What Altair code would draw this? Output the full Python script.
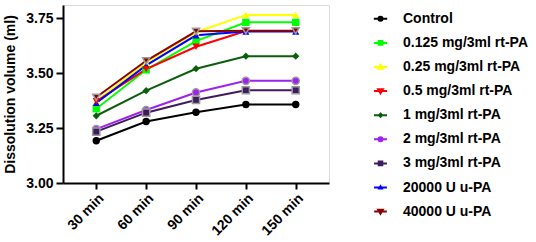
import altair as alt
import pandas as pd

times = ["30 min", "60 min", "90 min", "120 min", "150 min"]
series_names = [
    "Control", "0.125 mg/3ml rt-PA", "0.25 mg/3ml rt-PA", "0.5 mg/3ml rt-PA",
    "1 mg/3ml rt-PA", "2 mg/3ml rt-PA", "3 mg/3ml rt-PA", "20000 U u-PA", "40000 U u-PA",
]
control = [3.192, 3.280, 3.322, 3.357, 3.357]
rt0125 = [3.338, 3.515, 3.646, 3.731, 3.731]
rt025 = [3.372, 3.548, 3.686, 3.765, 3.765]
rt05 = [3.372, 3.518, 3.620, 3.692, 3.692]
rt1 = [3.306, 3.420, 3.520, 3.577, 3.577]
rt2 = [3.245, 3.332, 3.412, 3.465, 3.465]
rt3 = [3.234, 3.320, 3.378, 3.422, 3.422]
u20000 = [3.364, 3.535, 3.672, 3.689, 3.689]
u40000 = [3.390, 3.556, 3.690, 3.693, 3.693]
all_values = [control, rt0125, rt025, rt05, rt1, rt2, rt3, u20000, u40000]

line_colors = ["#000000", "#00FF00", "#FFFF00", "#FF0000", "#0B5E0B",
               "#A020F0", "#3F1A5E", "#0000FF", "#8B0000"]
marker_colors = ["#000000", "#00FF00", "#FFFF00", "#FF0000", "#0B5E0B",
                 "#A020F0", "#3F1A5E", "#0000FF", "#8B0000"]
marker_shapes = ["circle", "square", "triangle-up", "triangle-down", "diamond",
                 "circle", "square", "triangle-up", "triangle-down"]
marker_sizes = [55, 50, 64, 55, 36, 55, 55, 20, 60]
outlined = ["2 mg/3ml rt-PA", "3 mg/3ml rt-PA", "40000 U u-PA"]
y_ticks = [3.0, 3.25, 3.5, 3.75]

# legend keys: a short line with the series marker on it
legend_paths = {
    "circle": "M-1.8,0H1.8M0.55,0A0.55,0.55,0,1,1,-0.55,0A0.55,0.55,0,1,1,0.55,0Z",
    "square": "M-1.8,0H1.8M-0.5,-0.5H0.5V0.5H-0.5Z",
    "triangle-up": "M-1.8,0H1.8M0,-0.6L0.65,0.5L-0.65,0.5Z",
    "triangle-down": "M-1.8,0H1.8M0,0.6L0.65,-0.5L-0.65,-0.5Z",
    "diamond": "M-1.8,0H1.8M0,-0.45L0.45,0L0,0.45L-0.45,0Z",
    "small-triangle-up": "M-1.8,0H1.8M0,-0.35L0.35,0.25L-0.35,0.25Z",
}
legend_shapes = [legend_paths["circle"], legend_paths["square"],
                 legend_paths["triangle-up"], legend_paths["triangle-down"],
                 legend_paths["diamond"], legend_paths["circle"],
                 legend_paths["square"], legend_paths["small-triangle-up"],
                 legend_paths["triangle-down"]]

rows = []
for name, vals in zip(series_names, all_values):
    for t, v in zip(times, vals):
        rows.append({"time": t, "value": v, "series": name})
df = pd.DataFrame(rows)

FONT = "Liberation Sans"

x_enc = alt.X("time:N", sort=times,
              scale=alt.Scale(type="point", padding=0.667),
              axis=alt.Axis(title=None, labelAngle=-45, labelFontSize=14,
                            labelFontWeight="bold", labelFont=FONT, labelColor="black",
                            domainColor="black", domainWidth=2, tickColor="black",
                            tickWidth=2, tickSize=6, labelPadding=2, grid=False))
y_enc = alt.Y("value:Q",
              scale=alt.Scale(domain=[3.0, 3.81], nice=False, zero=False),
              axis=alt.Axis(title="Dissolution volume (ml)", values=y_ticks, format=".2f",
                            titleFontSize=14, titleFontWeight="bold", titleFont=FONT,
                            titleColor="black", titlePadding=8,
                            labelFontSize=14, labelFontWeight="bold", labelFont=FONT,
                            labelColor="black", domainColor="black", domainWidth=2,
                            tickColor="black", tickWidth=2, tickSize=7, labelPadding=3,
                            grid=False))

legend = alt.Legend(title=None, orient="none", legendX=310.5, legendY=6.8,
                    symbolStrokeWidth=2, labelFontSize=14,
                    labelFontWeight="bold", labelFont=FONT, labelColor="black",
                    labelOffset=15.5, rowPadding=10.1, padding=0)

stroke_enc = alt.Stroke("series:N", scale=alt.Scale(domain=series_names, range=line_colors),
                        legend=legend)
fill_enc = alt.Fill("series:N", scale=alt.Scale(domain=series_names, range=marker_colors),
                    legend=legend)
size_enc = alt.Size("series:N", scale=alt.Scale(domain=series_names, range=marker_sizes),
                    legend=None)

lines = alt.Chart(df).mark_line(strokeWidth=2).encode(x=x_enc, y=y_enc, stroke=stroke_enc)

layers = [lines]
# visible markers, one layer per marker shape / outline style
groups = {}
for name, shp in zip(series_names, marker_shapes):
    key = (shp, name in outlined)
    groups.setdefault(key, []).append(name)
for (shp, has_outline), names in groups.items():
    mk = dict(shape=shp, filled=True, opacity=1)
    if has_outline:
        mk.update(stroke="#9a9a9a", strokeWidth=1.5)
    else:
        mk.update(strokeWidth=0)
    layers.append(
        alt.Chart(df).transform_filter(
            alt.FieldOneOfPredicate(field="series", oneOf=names)
        ).mark_point(**mk).encode(x=x_enc, y=y_enc, fill=fill_enc, size=size_enc)
    )

# legend-only layer (no rows drawn): carries the line+marker legend keys
legend_layer = alt.Chart(df).transform_filter("false").mark_point(
    filled=True, opacity=1
).encode(
    x=x_enc, y=y_enc, fill=fill_enc, stroke=stroke_enc,
    shape=alt.Shape("series:N", scale=alt.Scale(domain=series_names, range=legend_shapes),
                    legend=legend),
)
layers.append(legend_layer)

chart = alt.layer(*layers).properties(
    width=266, height=178,
    autosize=alt.AutoSizeParams(type="none"),
    padding={"left": 63, "top": 5, "right": 207, "bottom": 59},
).configure_view(stroke=None).configure(background="white")

chart.save("out.html", embed_options={"renderer": "svg", "actions": False})
